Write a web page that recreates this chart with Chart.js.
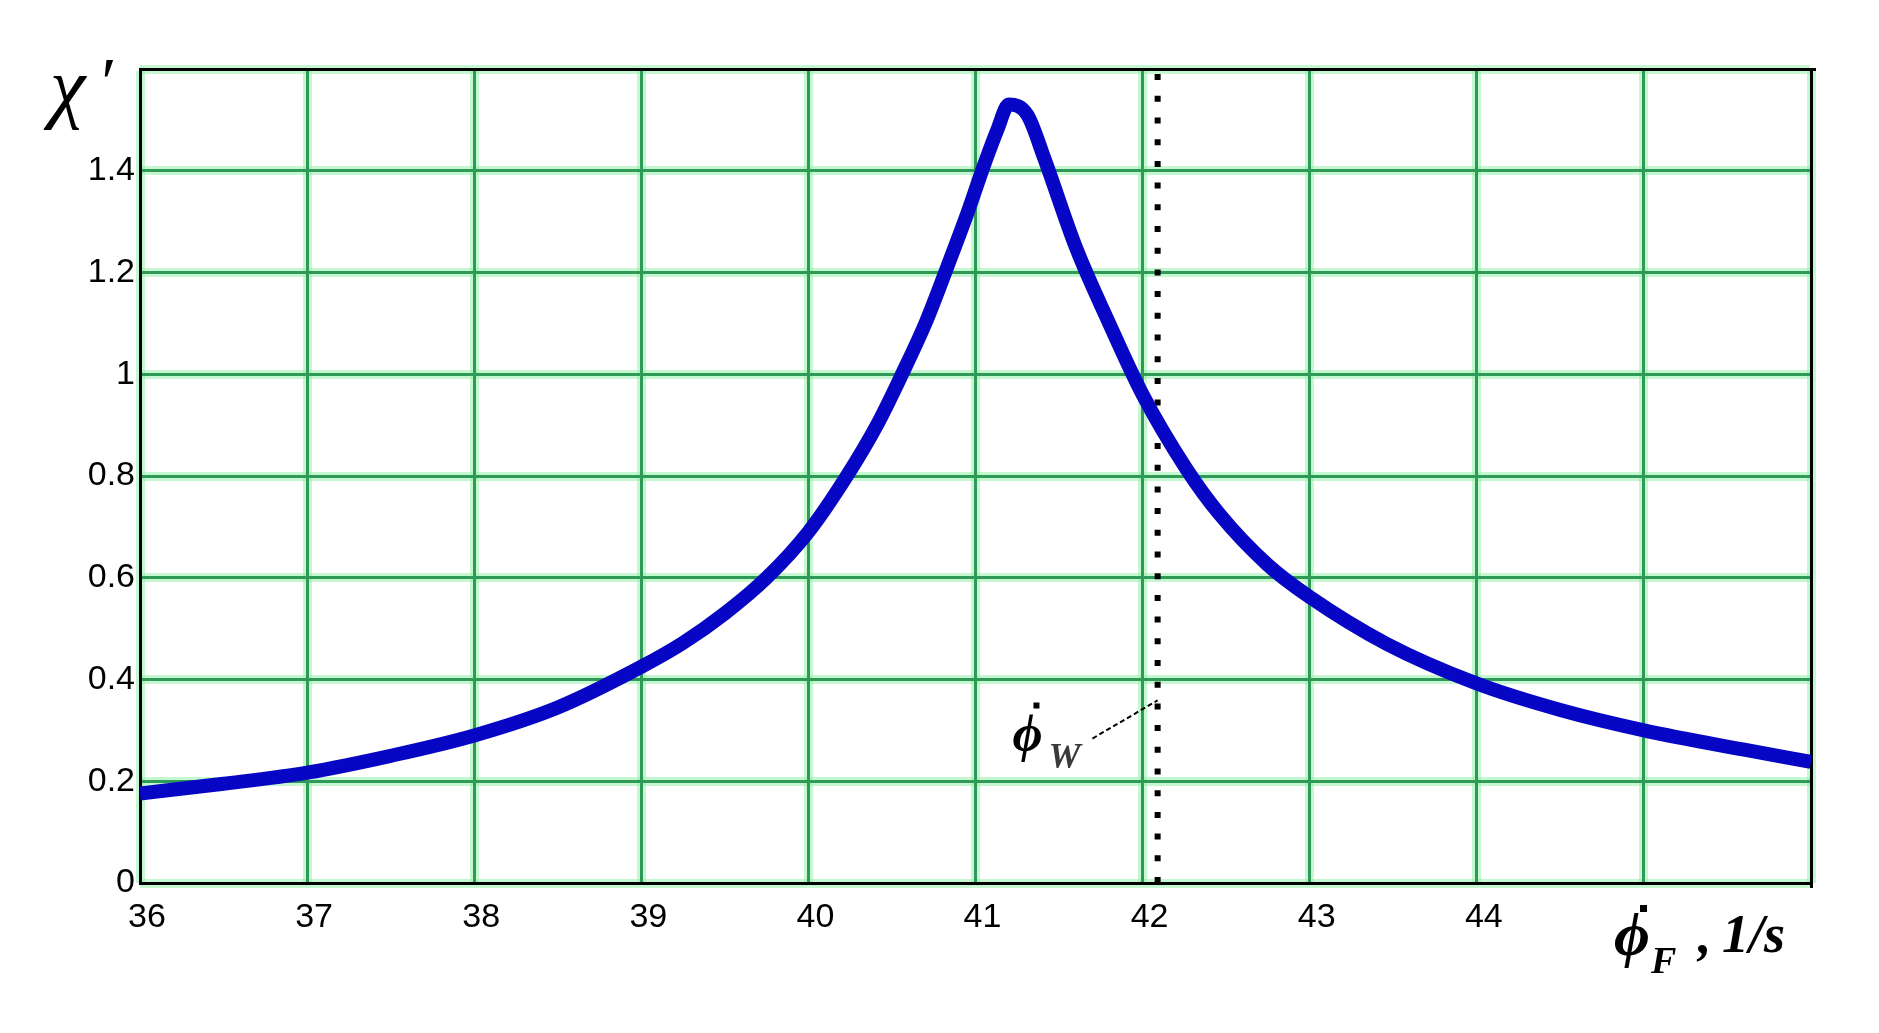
<!DOCTYPE html>
<html>
<head>
<meta charset="utf-8">
<script src="https://cdn.jsdelivr.net/npm/chart.js@4.4.1/dist/chart.umd.min.js"></script>
<style>
html,body{margin:0;padding:0;background:#fff;}
#wrap{width:1879px;height:1033px;}
</style>
</head>
<body>
<div id="wrap"><canvas id="c" width="1879" height="1033"></canvas></div>
<script>
// ---- data ----
const freq = [36.0, 36.5, 37.0, 37.5, 38.0, 38.5, 39.0, 39.25, 39.5, 39.75, 40.0, 40.23, 40.41, 40.56, 40.70, 40.83, 40.95, 41.05, 41.13, 41.2, 41.31, 41.41, 41.6, 41.8, 42.0, 42.26, 42.46, 42.75, 43.0, 43.46, 44.0, 44.5, 45.0, 45.6, 46.0];
const chi  = [0.176, 0.195, 0.217, 0.250, 0.290, 0.345, 0.425, 0.472, 0.530, 0.600, 0.690, 0.800, 0.900, 1.000, 1.100, 1.210, 1.315, 1.410, 1.480, 1.530, 1.510, 1.426, 1.250, 1.100, 0.960, 0.815, 0.725, 0.625, 0.562, 0.470, 0.392, 0.340, 0.300, 0.262, 0.238];
const markerX = [42.09, 42.09];
const markerY = [0, 1.6];
const leaderX = [41.70, 42.09];
const leaderY = [0.284, 0.359];
const xTickLabels = ['36','37','38','39','40','41','42','43','44'];
const yTickLabels = ['0','0.2','0.4','0.6','0.8','1','1.2','1.4'];
const xRange = [36, 46];
const yRange = [0, 1.6];

const toPts = (xs, ys) => xs.map((x, i) => ({x: x, y: ys[i]}));

const titlePlugin = {
  id: 'titles',
  afterDraw(chart) {
    const ctx = chart.ctx;
    const xs = chart.scales.x, ys = chart.scales.y;
    ctx.save();
    ctx.fillStyle = '#000';
    ctx.textBaseline = 'alphabetic';
    ctx.textAlign = 'left';
    // y axis title: chi prime
    ctx.font = 'italic 80px "Liberation Serif", serif';
    ctx.fillText('\u03C7', 50, 113);
    ctx.font = 'italic 70px "Liberation Serif", serif';
    ctx.fillText('\u2032', 97, 106);
    // annotation phi_W near the marker line
    const ax = xs.getPixelForValue(leaderX[0]);
    const ay = ys.getPixelForValue(leaderY[0]);
    ctx.font = 'italic bold 52px "Liberation Serif", serif';
    ctx.fillText('\u03D5', ax - 80, ay + 12);
    ctx.fillRect(ax - 59, ay - 36, 6, 6);
    ctx.fillStyle = '#3a3a3a';
    ctx.font = 'italic bold 36px "Liberation Serif", serif';
    ctx.fillText('W', ax - 44, ay + 29);
    // x axis title
    ctx.fillStyle = '#000';
    const bx = chart.chartArea.right, by = chart.chartArea.bottom;
    ctx.font = 'italic bold 62px "Liberation Serif", serif';
    ctx.fillText('\u03D5', bx - 197, by + 72);
    ctx.fillRect(bx - 171, by + 22, 7, 7);
    ctx.font = 'italic bold 38px "Liberation Serif", serif';
    ctx.fillText('F', bx - 160, by + 90);
    ctx.font = 'italic bold 54px "Liberation Serif", serif';
    ctx.fillText(',', bx - 113, by + 70);
    ctx.fillText('1/s', bx - 89, by + 69);
    ctx.restore();
  }
};

new Chart(document.getElementById('c'), {
  type: 'line',
  data: {
    datasets: [
      {
        data: toPts(freq, chi),
        borderColor: '#0606c4',
        borderWidth: 14,
        pointRadius: 0,
        cubicInterpolationMode: 'monotone',
        borderJoinStyle: 'round',
        fill: false
      },
      {
        data: toPts(markerX, markerY),
        borderColor: '#000',
        borderWidth: 6,
        borderDash: [6, 15.7],
        borderCapStyle: 'butt',
        pointRadius: 0,
        fill: false
      },
      {
        data: toPts(leaderX, leaderY),
        borderColor: '#000',
        borderWidth: 2,
        borderDash: [5, 3],
        pointRadius: 0,
        fill: false
      }
    ]
  },
  options: {
    responsive: false,
    animation: false,
    devicePixelRatio: 1,
    layout: {padding: {left: 0, top: 69, right: 68, bottom: 0}},
    plugins: {legend: {display: false}, tooltip: {enabled: false}, title: {display: false}},
    scales: {
      x: {
        type: 'linear', position: 'bottom', min: xRange[0], max: xRange[1],
        afterFit: s => { s.height = 150; },
        grid: {color: '#2f9a58', lineWidth: 3, drawTicks: false},
        border: {display: true, color: '#000', width: 3},
        ticks: {
          stepSize: 1, padding: 14, labelOffset: 7, color: '#000',
          font: {family: '"Liberation Sans", Arial, sans-serif', size: 34},
          callback: (v) => { const i = Math.round(v - xRange[0]); return i < xTickLabels.length ? xTickLabels[i] : ''; }
        }
      },
      y: {
        type: 'linear', position: 'left', min: yRange[0], max: yRange[1],
        afterFit: s => { s.width = 140; },
        grid: {color: '#2f9a58', lineWidth: 3, drawTicks: false},
        border: {display: true, color: '#000', width: 3},
        ticks: {
          stepSize: 0.2, padding: 5, color: '#000',
          font: {family: '"Liberation Sans", Arial, sans-serif', size: 34},
          callback: (v) => { const i = Math.round(v / 0.2); return i < yTickLabels.length ? yTickLabels[i] : ''; }
        }
      },
      xg: {
        type: 'linear', position: 'top', min: xRange[0], max: xRange[1],
        afterFit: s => { s.height = 0; },
        grid: {color: 'rgba(150,240,170,0.55)', lineWidth: 9, drawTicks: false, z: -2},
        border: {display: true, color: '#000', width: 3},
        ticks: {display: false, stepSize: 1}
      },
      yg: {
        type: 'linear', position: 'right', min: yRange[0], max: yRange[1],
        afterFit: s => { s.width = 0; },
        grid: {color: 'rgba(150,240,170,0.55)', lineWidth: 9, drawTicks: false, z: -2},
        border: {display: true, color: '#000', width: 3},
        ticks: {display: false, stepSize: 0.2}
      }
    }
  },
  plugins: [titlePlugin]
});
</script>
</body>
</html>
